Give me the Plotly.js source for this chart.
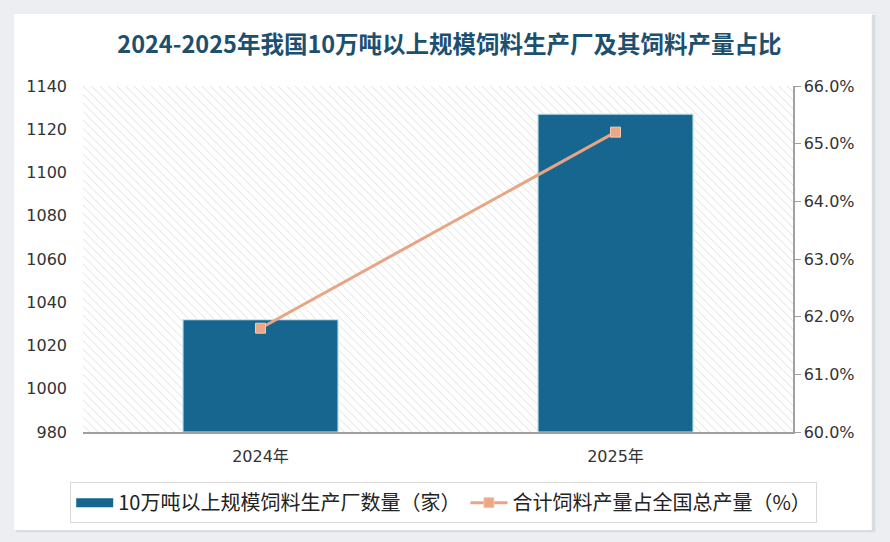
<!DOCTYPE html>
<html><head><meta charset="utf-8">
<script src="https://cdn.plot.ly/plotly-3.0.1.min.js"></script>
<style>html,body{margin:0;padding:0;background:#eceef1;}#chart{width:890px;height:542px;}</style>
</head><body><div id="chart"></div>
<script>
const categories = ['2024年', '2025年'];
const plantCounts = [1032, 1127];
const outputShare = [61.8, 65.2];
const leftTicks = [980, 1000, 1020, 1040, 1060, 1080, 1100, 1120, 1140];
const rightTicks = [60, 61, 62, 63, 64, 65, 66];
const barName = '10万吨以上规模饲料生产厂数量（家）';
const lineName = '合计饲料产量占全国总产量（%）';
const titleText = '2024-2025年我国10万吨以上规模饲料生产厂及其饲料产量占比';

const yMin = leftTicks[0], yMax = leftTicks[leftTicks.length - 1];
const tickFont = 'DejaVu Sans, Noto Sans CJK SC, sans-serif';
const barColor = '#17668f';

const traces = [
  { // hatched plot background
    type: 'bar', x: categories, y: categories.map(() => yMax - yMin), base: yMin,
    width: 1, marker: { color: '#ffffff', line: { width: 0 },
      pattern: { shape: '\\', fgcolor: '#dcdcdc', bgcolor: '#ffffff', size: 6, solidity: 0.15 } },
    showlegend: false, hoverinfo: 'skip'
  },
  {
    type: 'bar', name: barName, x: categories, y: plantCounts.map(v => v - yMin), base: yMin,
    width: 0.437, marker: { color: barColor, line: { color: '#c6e6f0', width: 1.2 } },
    showlegend: false, hoverinfo: 'x+y'
  },
  { // legend entry for bars (wide swatch)
    type: 'scatter', mode: 'lines', name: barName, x: [categories[0]], y: [null],
    line: { color: barColor, width: 9 }, showlegend: true, hoverinfo: 'skip'
  },
  {
    type: 'scatter', mode: 'lines+markers', name: lineName, x: categories, y: outputShare,
    yaxis: 'y2', line: { color: '#e8a583', width: 3 },
    marker: { symbol: 'square', size: 10, color: '#eba886', line: { color: '#f3c9b0', width: 1 } }
  }
];

const layout = {
  width: 890, height: 542,
  margin: { l: 83, r: 97, t: 86, b: 110 },
  paper_bgcolor: '#eceef1', plot_bgcolor: '#ffffff',
  barmode: 'overlay', bargap: 0,
  title: { text: titleText, x: 0.505, xanchor: 'center', y: 0.917, yanchor: 'middle',
    font: { family: 'Noto Sans CJK SC, sans-serif', size: 23.5, color: '#1d4f6e', weight: 'bold' } },
  xaxis: { type: 'category', range: [-0.5, 1.5], showgrid: false, zeroline: false,
    showline: true, linecolor: '#a0a0a0', linewidth: 1.5, ticks: '',
    tickfont: { family: tickFont, size: 16, color: '#333333' }, ticklabelstandoff: 9 },
  yaxis: { range: [yMin, yMax], tickvals: leftTicks, showgrid: false, zeroline: false,
    showline: false, ticks: '', tickfont: { family: tickFont, size: 16, color: '#333333' }, ticklabelstandoff: 15 },
  yaxis2: { overlaying: 'y', side: 'right', range: [rightTicks[0], rightTicks[rightTicks.length - 1]],
    tickvals: rightTicks, ticktext: rightTicks.map(v => v.toFixed(1) + '%'),
    showgrid: false, zeroline: false, showline: true, linecolor: '#a0a0a0', linewidth: 1.5,
    ticks: 'outside', ticklen: 6, tickcolor: '#a0a0a0',
    tickfont: { family: tickFont, size: 16, color: '#333333' } },
  legend: { orientation: 'h', x: -0.018, xanchor: 'left', y: -0.145, yanchor: 'top',
    bordercolor: '#d8d8d8', borderwidth: 1, bgcolor: '#ffffff',
    font: { family: 'Noto Sans CJK SC, sans-serif', size: 20, color: '#222222' },
    itemwidth: 37, tracegroupgap: 0 },
  shapes: [
    { type: 'rect', xref: 'paper', yref: 'paper', x0: -0.094, x1: 1.116, y0: -0.29, y1: 1.205,
      fillcolor: '#d9dce0', line: { width: 0 }, layer: 'below' },
    { type: 'rect', xref: 'paper', yref: 'paper', x0: -0.097, x1: 1.111, y0: -0.283, y1: 1.208,
      fillcolor: '#ffffff', line: { width: 0 }, layer: 'below' }
  ]
};

Plotly.newPlot('chart', traces, layout, { displayModeBar: false, staticPlot: true });
</script></body></html>
